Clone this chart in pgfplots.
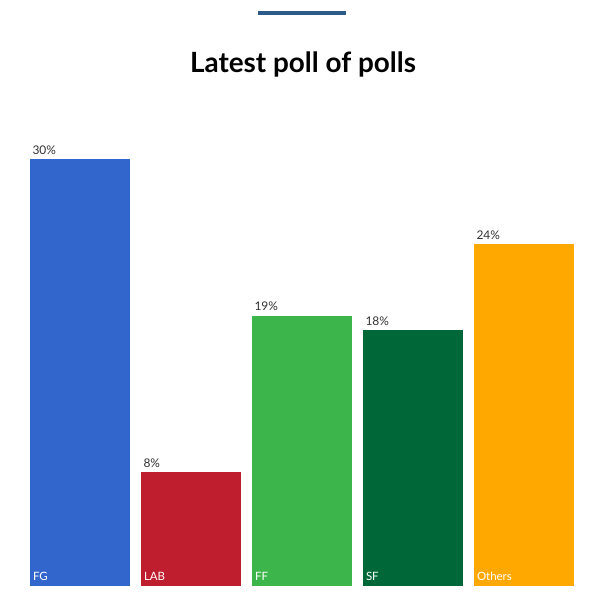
\documentclass[border=0pt]{standalone}
\usepackage{pgfplots}
\pgfplotsset{compat=1.18}
\usepackage{fontspec}
\setmainfont{Lato}
\definecolor{cFG}{HTML}{3366CC}
\definecolor{cLAB}{HTML}{BE1E2D}
\definecolor{cFF}{HTML}{3CB54A}
\definecolor{cSF}{HTML}{006838}
\definecolor{cOT}{HTML}{FFA800}
\definecolor{topline}{HTML}{2E5A8A}
\definecolor{lab}{HTML}{333333}
\begin{document}
\begin{tikzpicture}[x=1bp,y=1bp]
\useasboundingbox[fill=white] (0,0) rectangle (614,-603);
\draw[topline, line width=4bp] (258,-13) -- (346,-13);
\node[font=\bfseries\fontsize{28}{32}\selectfont, anchor=base] at (303,-73) {Latest poll of polls};
\begin{axis}[
  at={(24.5bp,-586bp)}, anchor=south west,
  x=111bp, y=14.233bp,
  xmin=-0.5, xmax=4.5, ymin=0, ymax=32,
  axis lines=none,
  clip=false,
  /pgf/number format/assume math mode=true,
  ybar, bar width=100bp, bar shift=0pt,
  xtick=data,
  nodes near coords={\pgfmathprintnumber{\pgfplotspointmeta}\%},
  every node near coord/.append style={font=\fontsize{12}{14}\selectfont, text=lab, anchor=south west, xshift=-51bp, yshift=1bp},
]
\addplot[fill=cFG, draw=none] coordinates {(0,30)};
\addplot[fill=cLAB, draw=none] coordinates {(1,8)};
\addplot[fill=cFF, draw=none] coordinates {(2,19)};
\addplot[fill=cSF, draw=none] coordinates {(3,18)};
\addplot[fill=cOT, draw=none] coordinates {(4,24)};
\node[font=\fontsize{11.5}{13}\selectfont, text=white, anchor=base west] at (axis cs:-0.455,0) [yshift=6bp] {FG};
\node[font=\fontsize{11.5}{13}\selectfont, text=white, anchor=base west] at (axis cs:0.545,0) [yshift=6bp] {LAB};
\node[font=\fontsize{11.5}{13}\selectfont, text=white, anchor=base west] at (axis cs:1.545,0) [yshift=6bp] {FF};
\node[font=\fontsize{11.5}{13}\selectfont, text=white, anchor=base west] at (axis cs:2.545,0) [yshift=6bp] {SF};
\node[font=\fontsize{11.5}{13}\selectfont, text=white, anchor=base west] at (axis cs:3.545,0) [yshift=6bp] {Others};
\end{axis}
\end{tikzpicture}
\end{document}
